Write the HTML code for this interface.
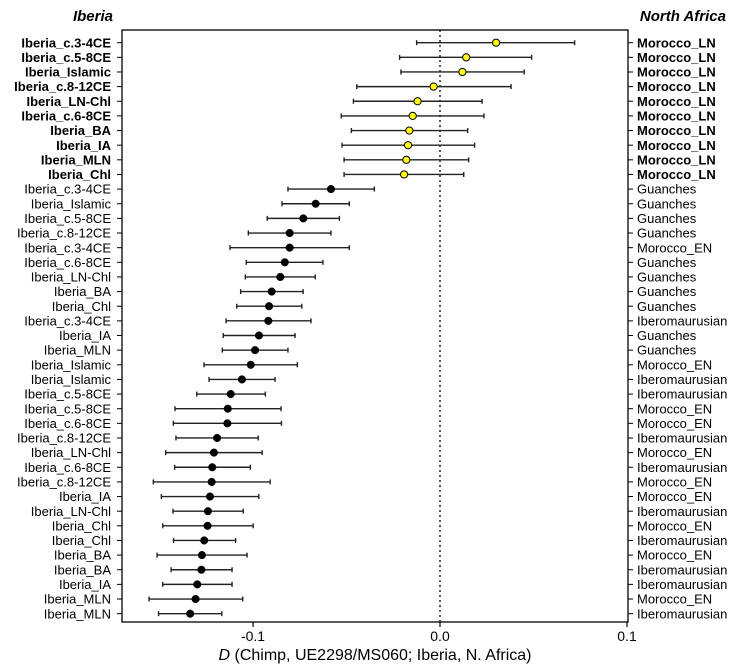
<!DOCTYPE html>
<html><head><meta charset="utf-8"><style>
body{margin:0;background:#fff;}
svg{display:block;font-family:"Liberation Sans",Arial,sans-serif;}
</style></head><body>
<svg id="chart" width="746" height="668" viewBox="0 0 746 668" xmlns="http://www.w3.org/2000/svg">
<text x="113" y="21" text-anchor="end" font-size="15" font-weight="bold" font-style="italic">Iberia</text>
<text x="726" y="21" text-anchor="end" font-size="15" font-weight="bold" font-style="italic">North Africa</text>
<rect x="122" y="30" width="506" height="592" fill="none" stroke="#000" stroke-width="1.3"/>
<g id="marks"></g>
<text x="375" y="660" text-anchor="middle" font-size="16"><tspan font-style="italic">D</tspan> (Chimp, UE2298/MS060; Iberia, N. Africa)</text>
</svg>
<script>
const leftLabels=["Iberia_c.3-4CE","Iberia_c.5-8CE","Iberia_Islamic","Iberia_c.8-12CE","Iberia_LN-Chl","Iberia_c.6-8CE","Iberia_BA","Iberia_IA","Iberia_MLN","Iberia_Chl",
"Iberia_c.3-4CE","Iberia_Islamic","Iberia_c.5-8CE","Iberia_c.8-12CE","Iberia_c.3-4CE","Iberia_c.6-8CE","Iberia_LN-Chl","Iberia_BA","Iberia_Chl","Iberia_c.3-4CE",
"Iberia_IA","Iberia_MLN","Iberia_Islamic","Iberia_Islamic","Iberia_c.5-8CE","Iberia_c.5-8CE","Iberia_c.6-8CE","Iberia_c.8-12CE","Iberia_LN-Chl","Iberia_c.6-8CE",
"Iberia_c.8-12CE","Iberia_IA","Iberia_LN-Chl","Iberia_Chl","Iberia_Chl","Iberia_BA","Iberia_BA","Iberia_IA","Iberia_MLN","Iberia_MLN"];
const rightLabels=["Morocco_LN","Morocco_LN","Morocco_LN","Morocco_LN","Morocco_LN","Morocco_LN","Morocco_LN","Morocco_LN","Morocco_LN","Morocco_LN",
"Guanches","Guanches","Guanches","Guanches","Morocco_EN","Guanches","Guanches","Guanches","Guanches","Iberomaurusian",
"Guanches","Guanches","Morocco_EN","Iberomaurusian","Iberomaurusian","Morocco_EN","Morocco_EN","Iberomaurusian","Morocco_EN","Iberomaurusian",
"Morocco_EN","Morocco_EN","Iberomaurusian","Morocco_EN","Iberomaurusian","Morocco_EN","Iberomaurusian","Iberomaurusian","Morocco_EN","Iberomaurusian"];
const dValues=[0.030,0.014,0.012,-0.0034,-0.0120,-0.0146,-0.0164,-0.0171,-0.0180,-0.0192,
-0.0583,-0.0665,-0.0731,-0.0804,-0.0804,-0.0830,-0.0854,-0.0900,-0.0914,-0.0918,
-0.0968,-0.0989,-0.1012,-0.1059,-0.1119,-0.1135,-0.1137,-0.1192,-0.1209,-0.1218,
-0.1221,-0.1230,-0.1241,-0.1243,-0.1261,-0.1273,-0.1276,-0.1298,-0.1307,-0.1336];
const ciLow=[-0.0125,-0.0216,-0.0209,-0.0445,-0.0463,-0.0528,-0.0474,-0.0524,-0.0513,-0.0513,
-0.0813,-0.0845,-0.0924,-0.1025,-0.1123,-0.1036,-0.1041,-0.1066,-0.1087,-0.1144,
-0.1159,-0.1164,-0.1262,-0.1235,-0.1301,-0.1417,-0.1426,-0.1412,-0.1467,-0.1419,
-0.1533,-0.1490,-0.1428,-0.1483,-0.1425,-0.1513,-0.1438,-0.1483,-0.1556,-0.1505];
const ciHigh=[0.072,0.049,0.045,0.038,0.0225,0.0235,0.0148,0.0185,0.0153,0.0127,
-0.0351,-0.0485,-0.0538,-0.0583,-0.0485,-0.0626,-0.0667,-0.0732,-0.0739,-0.0690,
-0.0775,-0.0813,-0.0763,-0.0882,-0.0934,-0.0850,-0.0848,-0.0972,-0.0951,-0.1014,
-0.0908,-0.0969,-0.1052,-0.0999,-0.1093,-0.1032,-0.1112,-0.1112,-0.1055,-0.1167];
const highlighted=[1,1,1,1,1,1,1,1,1,1,0,0,0,0,0,0,0,0,0,0,0,0,0,0,0,0,0,0,0,0,0,0,0,0,0,0,0,0,0,0];
const xTicks=[-0.1,0,0.1];
const xTickLabels=["-0.1","0.0","0.1"];

const NS="http://www.w3.org/2000/svg";
const g=document.getElementById('marks');
const X=v=>440+v*1870;
const Y=i=>42.7+i*14.64;
function mk(tag,attrs,parent){const e=document.createElementNS(NS,tag);for(const k in attrs)e.setAttribute(k,attrs[k]);(parent||g).appendChild(e);return e;}

const zl=mk('line',{x1:X(0),x2:X(0),y1:30,y2:622,stroke:'#000','stroke-width':1.3,'stroke-dasharray':'2,3'});



xTicks.forEach((t,i)=>{
  const tk=mk('line',{x1:X(t),x2:X(t),y1:622,y2:627,stroke:'#000','stroke-width':1.2});
  
  
  const tl=mk('text',{x:X(t),y:641,'text-anchor':'middle','font-size':14});
  tl.textContent=xTickLabels[i];
  
  
});

dValues.forEach((d,i)=>{
  const y=Y(i);
  const b=highlighted[i]===1;
  const lt=mk('line',{x1:117,x2:122,y1:y,y2:y,stroke:'#000'});
  
  
  const rt=mk('line',{x1:628,x2:633,y1:y,y2:y,stroke:'#000'});
  
  
  const ll=mk('text',{x:111,y:y+4.6,'text-anchor':'end','font-size':13,'font-weight':b?'bold':'normal'});
  ll.textContent=leftLabels[i];
  
  
  const rl=mk('text',{x:637,y:y+4.6,'font-size':13,'font-weight':b?'bold':'normal'});
  rl.textContent=rightLabels[i];
  
  
  const ci=mk('line',{x1:X(ciLow[i]),x2:X(ciHigh[i]),y1:y,y2:y,stroke:'#222','stroke-width':1.4});
  
  
  [ciLow[i],ciHigh[i]].forEach(v=>{
    const cap=mk('line',{x1:X(v),x2:X(v),y1:y-2.5,y2:y+2.5,stroke:'#222','stroke-width':1.4});
    
    
  });
  const p=mk('circle',{cx:X(d),cy:y,r:b?3.6:3.8,fill:b?'#ffff00':'#000',stroke:'#000','stroke-width':b?1:0.5});
  
  
});
</script>
</body></html>
